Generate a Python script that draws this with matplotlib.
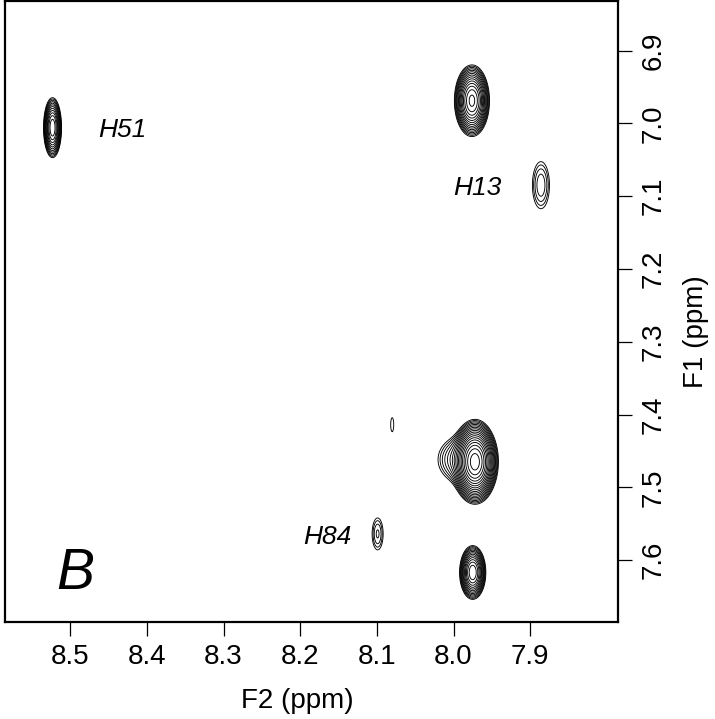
import numpy as np
import matplotlib
matplotlib.use("Agg")
import matplotlib.pyplot as plt

# Peak list (F2 ppm, F1 ppm, widths in ppm, relative intensity)
peak_f2 = [8.523, 7.976, 7.886, 8.080, 7.972, 7.988, 8.099, 7.975]
peak_f1 = [7.006, 6.969, 7.085, 7.414, 7.465, 7.462, 7.564, 7.617]
peak_sx = [0.0045, 0.0080, 0.0075, 0.0033, 0.0095, 0.0170, 0.0053, 0.0063]
peak_sy = [0.0158, 0.0172, 0.0218, 0.0160, 0.0184, 0.0170, 0.0162, 0.0136]
peak_amp = [30, 60, 3.0, 1.2, 150, 6, 2.5, 40]

# Residue labels
label_text = ["H51", "H13", "H84"]
label_f2 = [8.4635, 8.0006, 8.1962]
label_f1 = [7.0192, 7.0989, 7.5777]

panel_text = "B"
xticks = [8.5, 8.4, 8.3, 8.2, 8.1, 8.0, 7.9]
yticks = [6.9, 7.0, 7.1, 7.2, 7.3, 7.4, 7.5, 7.6]
xlim = (8.585, 7.7855)
ylim = (7.685, 6.832)

plt.rcParams['font.family'] = ['Liberation Sans', 'DejaVu Sans']

fig = plt.figure(figsize=(7.15, 7.19), dpi=100)
ax = fig.add_axes([5/715, 97/719, 613/715, 621/719])

x = np.linspace(xlim[1], xlim[0], 900)
y = np.linspace(ylim[1], ylim[0], 900)
X, Y = np.meshgrid(x, y)
Z = np.zeros_like(X)
for cx, cy, sx, sy, a in zip(peak_f2, peak_f1, peak_sx, peak_sy, peak_amp):
    Z += a * np.exp(-0.5 * (((X - cx) / sx) ** 2 + ((Y - cy) / sy) ** 2))

levels = 1.0 * 1.33 ** np.arange(0, 20)
ax.contour(X, Y, Z, levels=levels, colors='black', linewidths=0.65)

ax.set_xlim(*xlim)
ax.set_ylim(*ylim)
ax.set_xticks(xticks)
ax.set_xticklabels([f"{v:.1f}" for v in xticks])
ax.set_yticks(yticks)
ax.set_yticklabels([f"{v:.1f}" for v in yticks], rotation=90, va='center')
ax.yaxis.tick_right()
ax.yaxis.set_label_position('right')
ax.tick_params(direction='out', length=10, width=0.9, labelsize=20, pad=6)
for s in ax.spines.values():
    s.set_linewidth(1.6)

ax.set_xlabel("F2 (ppm)", fontsize=20)
ax.xaxis.set_label_coords((297 - 5) / 613, -(688 - 622) / 621)
ax.set_ylabel("F1 (ppm)", fontsize=20)
ax.yaxis.set_label_coords((683 - 5) / 613, 1 - (332 - 1) / 621)

for t, lx, ly in zip(label_text, label_f2, label_f1):
    ax.text(lx, ly, t, fontsize=19, style='italic', ha='left', va='baseline')
ax.text(8.518, 7.6394, panel_text, fontsize=41, style='italic', ha='left', va='baseline')

fig.savefig("out.png", dpi=100)
